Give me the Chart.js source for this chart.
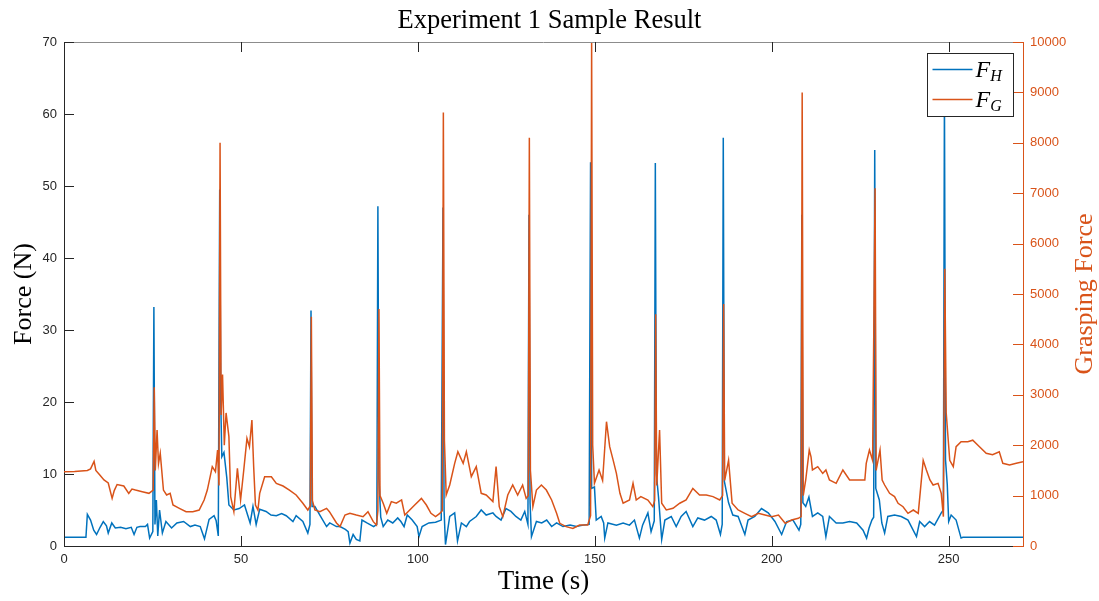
<!DOCTYPE html>
<html>
<head>
<meta charset="utf-8">
<title>Experiment 1 Sample Result</title>
<script src="https://cdn.jsdelivr.net/npm/chart.js@4/dist/chart.umd.min.js"></script>
<style>
    html, body { margin: 0; padding: 0; background: #fff; }
    #wrap { width: 1099px; height: 601px; }
</style>
</head>
<body>
<div id="wrap"><canvas id="forceChart" width="1099" height="601"></canvas></div>
<script>
// F_H : hand force (N), left axis
const timeHand = [
    0, 6.2, 6.6, 7.5, 8.4, 9.2, 10.2, 11.1, 12, 12.5,
    13.5, 14.5, 16, 17.5, 19, 19.8, 20.6, 21.5, 23, 23.6,
    24.2, 25.1, 25.4, 25.7, 26.1, 26.5, 27, 27.8, 28.8, 30.4,
    31.9, 33.8, 35.7, 37, 38.5, 39.7, 41, 42.4, 43, 43.6,
    44, 44.3, 44.6, 45.2, 46, 46.6, 48, 49.5, 51, 52.6,
    53.4, 54.3, 55.3, 57.1, 58.5, 60, 61.5, 62.8, 64.7, 65.6,
    67.5, 68.9, 69.5, 69.8, 70.1, 70.9, 72.3, 74.2, 75.1, 77,
    78, 79.5, 80.3, 80.8, 81.7, 82.6, 83.6, 84.2, 85.6, 87.5,
    88.4, 88.7, 89, 89.5, 90.2, 91.5, 92.9, 94.3, 95.2, 96.1,
    97, 98.4, 99.8, 100.3, 101.2, 103.1, 105, 106.6, 107.1, 107.4,
    107.8, 109, 110.4, 111.2, 112.3, 113.7, 114.6, 116.5, 117.9, 119.3,
    121.2, 122.1, 123.5, 124.9, 126.3, 127.7, 129.1, 130.2, 131.1, 131.4,
    131.7, 132.1, 133.5, 135, 136.4, 137.8, 139.2, 141, 143, 144.8,
    146.7, 148.4, 148.8, 149.1, 149.9, 150.4, 151.8, 152.5, 152.8, 153.7,
    156.1, 158, 159.8, 161.2, 162.6, 163.5, 165, 165.9, 166.8, 167.1,
    167.4, 168, 168.9, 169.8, 171.6, 173, 174.4, 175.8, 177.7, 179.1,
    181, 182.9, 184.3, 185.5, 186, 186.3, 186.6, 187.8, 189, 190.5,
    192.4, 193.3, 195.2, 197.1, 199, 200.9, 202.8, 204.2, 206, 207.7,
    208.2, 208.5, 208.8, 209.6, 210.5, 211.5, 213, 214.4, 215.3, 216.3,
    218.2, 220.1, 222, 224, 225.8, 226.8, 227.5, 228.3, 228.8, 229.1,
    229.4, 230.4, 231.1, 231.9, 232.8, 234.7, 236.6, 238.5, 240.9, 241.8,
    243.2, 244.6, 246, 247.9, 248.5, 248.8, 249.1, 249.6, 250, 250.7,
    252.1, 253.5, 254, 271
];
const forceHand = [
    1.2, 1.2, 4.4, 3.6, 2.2, 1.6, 2.6, 3.4, 2.8, 1.8,
    3.2, 2.5, 2.6, 2.4, 2.6, 1.6, 2.6, 2.7, 2.7, 3.0,
    1.1, 2.0, 33.2, 3.0, 6.4, 1.4, 5.0, 1.8, 3.4, 2.5,
    3.2, 3.4, 2.7, 2.9, 2.7, 1.0, 3.7, 4.2, 3.5, 1.4,
    49.5, 20, 12.4, 13, 9.5, 5.7, 5.0, 5.2, 5.7, 3.2,
    5.5, 3.0, 5.1, 4.8, 4.3, 4.2, 4.5, 4.2, 3.4, 4.2,
    3.4, 1.8, 3.0, 32.7, 5.5, 5.5, 4.3, 2.7, 3.2, 2.7,
    2.7, 2.3, 2.0, 0.4, 1.6, 0.9, 0.7, 3.6, 3.2, 2.7,
    3.0, 47.2, 9.4, 4.0, 2.7, 3.6, 3.2, 3.9, 3.4, 2.7,
    4.3, 3.6, 2.7, 1.3, 2.7, 3.2, 3.3, 3.6, 47, 5,
    0.2, 4.1, 4.6, 0.7, 3.2, 2.7, 3.4, 4.1, 5.0, 4.3,
    4.6, 4.1, 3.6, 5.2, 4.8, 4.1, 3.6, 4.8, 3.0, 46,
    6, 1.3, 3.4, 3.2, 3.6, 2.7, 3.2, 2.7, 2.9, 2.7,
    2.9, 3.0, 53.3, 8, 8.2, 3.6, 4.1, 3.2, 1.1, 3.2,
    2.9, 3.2, 2.9, 3.6, 1.1, 2.9, 4.6, 2.0, 3.5, 53.2,
    10, 6.8, 0.9, 3.6, 4.1, 2.7, 4.1, 4.8, 2.7, 3.9,
    3.6, 4.1, 3.6, 1.6, 3.0, 56.7, 9, 6.0, 4.3, 4.1,
    1.6, 3.6, 4.1, 5.2, 4.6, 3.4, 1.6, 3.4, 3.6, 2.2,
    3.0, 46, 6, 5.5, 6.8, 4.1, 4.6, 4.1, 1.3, 4.1,
    3.2, 3.2, 3.4, 3.2, 2.2, 1.1, 2.5, 3.6, 4.0, 55,
    8, 6.4, 3.2, 1.8, 4.1, 4.3, 4.1, 3.6, 1.3, 3.4,
    2.7, 3.4, 2.9, 4.6, 5, 63, 12, 8.5, 3.4, 4.3,
    3.6, 1.1, 1.2, 1.2
];

// F_G : grasping force, right axis
const timeGrasp = [
    0, 3, 6.6, 7.5, 8.5, 9, 10, 11.3, 12.5, 13.6,
    14.2, 15, 16.9, 18.3, 19.2, 20.2, 22.1, 24, 25.2, 25.5,
    25.8, 26.3, 26.7, 27.2, 28.1, 29, 30, 30.8, 32.6, 34.5,
    36.4, 38.2, 39.6, 40.5, 41.9, 42.8, 43.4, 43.8, 44.1, 44.4,
    44.8, 45.3, 45.8, 46.6, 47.1, 48, 49, 49.9, 50.8, 51.7,
    52.4, 53.1, 53.6, 54.1, 54.8, 55.3, 56.7, 58.6, 60, 61.9,
    63.7, 65.6, 67.5, 68.9, 69.6, 69.9, 70.2, 70.9, 72.3, 74.2,
    75, 77, 78, 79.4, 80.8, 82.6, 84.5, 85.9, 87.4, 88.3,
    88.7, 89, 89.3, 90.2, 91.2, 92.5, 93.9, 95.4, 96.3, 97.7,
    99.1, 101, 102.4, 103.7, 105, 106.2, 106.9, 107.2, 107.5, 108,
    109, 110.4, 111.3, 112.8, 113.7, 115.1, 116.5, 117.9, 119.3, 121.2,
    122.1, 123, 124, 125.4, 126.8, 128.2, 129.6, 130.6, 131.2, 131.5,
    131.8, 132.5, 133.5, 134.9, 136.3, 137.8, 139.2, 140.1, 141.9, 143.8,
    145.7, 148, 148.8, 149.1, 149.4, 149.9, 151.2, 152.2, 153.3, 154.2,
    155.2, 156.1, 157.1, 158, 159.8, 160.8, 161.7, 163, 165, 166.4,
    166.9, 167.2, 167.5, 168.3, 168.9, 170.2, 172.1, 174, 175.8, 177.7,
    179.6, 181.5, 183.4, 185.3, 186.1, 186.4, 186.7, 187.8, 188.8, 190.5,
    192.4, 194.3, 196.2, 198.1, 200, 201.9, 203.8, 205.6, 207.5, 208.3,
    208.6, 208.9, 209.6, 210.6, 211.1, 211.5, 213, 214.4, 215.3, 216.3,
    218.2, 220.1, 222, 224.9, 226.3, 226.7, 227.6, 228.5, 229.2, 229.5,
    230.6, 231.2, 231.9, 233.3, 234.7, 235.7, 237.1, 238.5, 240, 241.4,
    242.8, 243.7, 244.7, 245.6, 247, 247.9, 248.5, 248.9, 249.3, 250.3,
    251.3, 252.1, 253.5, 255.4, 256.8, 258.7, 260.6, 262.4, 264.3, 265.3,
    267.2, 269.1, 271
];
const forceGrasp = [
    1475, 1480, 1500, 1530, 1680, 1500, 1420, 1310, 1250, 945,
    1100, 1220, 1190, 1045, 1130, 1110, 1078, 1045, 1110, 3150,
    1500, 2300, 1630, 1840, 1110, 1012, 1045, 813, 747, 681,
    681, 714, 913, 1110, 1574, 1475, 1905, 1200, 8000, 2600,
    3400, 2000, 2640, 2170, 979, 681, 1540, 913, 1508, 2136,
    1970, 2500, 1574, 813, 714, 1045, 1375, 1375, 1243, 1190,
    1110, 1012, 848, 714, 800, 4550, 900, 714, 681, 747,
    681, 456, 384, 614, 648, 614, 582, 681, 483, 417,
    700, 4700, 1000, 848, 648, 880, 848, 913, 614, 714,
    813, 945, 813, 648, 582, 648, 700, 8600, 2100, 1012,
    1210, 1640, 1871, 1640, 1871, 1375, 1574, 1045, 1012, 880,
    1574, 780, 582, 1012, 1210, 1012, 1210, 945, 1000, 8100,
    1500, 780, 1110, 1210, 1110, 913, 648, 450, 384, 350,
    417, 417, 600, 10000, 2000, 1243, 1508, 1300, 2466, 1970,
    1700, 1440, 1045, 848, 913, 1243, 913, 980, 913, 780,
    900, 4600, 1200, 2300, 848, 714, 747, 848, 913, 1144,
    1012, 1012, 980, 913, 1000, 4800, 1300, 1700, 848, 714,
    648, 582, 648, 614, 582, 614, 450, 516, 549, 582,
    9000, 1000, 1310, 1905, 1770, 1508, 1574, 1440, 1508, 1310,
    1243, 1508, 1310, 1310, 1310, 1640, 1905, 1700, 7100, 1500,
    1905, 1310, 1210, 1045, 980, 848, 780, 648, 714, 648,
    1700, 1508, 1310, 1210, 1243, 1045, 582, 5500, 2640, 1700,
    1574, 1970, 2070, 2070, 2100, 1970, 1840, 1810, 1871, 1640,
    1607, 1640, 1673
];

const timeTicks = [0, 50, 100, 150, 200, 250];
const handTicks = [0, 10, 20, 30, 40, 50, 60, 70];
const graspTicks = [0, 1000, 2000, 3000, 4000, 5000, 6000, 7000, 8000, 9000, 10000];
const legendLabels = [['F', 'H'], ['F', 'G']];

const BLUE = '#0072BD';
const ORANGE = '#D95319';
const AXIS = '#262626';

function toPoints(xs, ys) {
    return xs.map((t, i) => ({ x: t, y: ys[i] }));
}

function fixTicks(values) {
    return scale => { scale.ticks = values.map(v => ({ value: v })); };
}

// inward tick marks and the top box edge, MATLAB style
const framePlugin = {
    id: 'matlabFrame',
    afterDatasetsDraw(chart) {
        const { ctx, chartArea: a, scales } = chart;
        const len = 10;
        ctx.save();
        ctx.lineWidth = 1;

        ctx.strokeStyle = '#8c8c8c';
        ctx.beginPath();
        ctx.moveTo(a.left, a.top + 0.5);
        ctx.lineTo(a.right, a.top + 0.5);
        ctx.stroke();

        ctx.strokeStyle = AXIS;
        ctx.beginPath();
        timeTicks.forEach(v => {
            const px = Math.round(scales.x.getPixelForValue(v)) + 0.5;
            ctx.moveTo(px, a.bottom);
            ctx.lineTo(px, a.bottom - len);
            ctx.moveTo(px, a.top);
            ctx.lineTo(px, a.top + len);
        });
        handTicks.forEach(v => {
            const py = Math.round(scales.yHand.getPixelForValue(v)) + 0.5;
            ctx.moveTo(a.left, py);
            ctx.lineTo(a.left + len, py);
        });
        ctx.stroke();

        ctx.strokeStyle = ORANGE;
        ctx.beginPath();
        graspTicks.forEach(v => {
            const py = Math.round(scales.yGrasp.getPixelForValue(v)) + 0.5;
            ctx.moveTo(a.right, py);
            ctx.lineTo(a.right - len, py);
        });
        ctx.stroke();
        ctx.restore();
    },
    afterDraw(chart) {
        const { ctx, chartArea: a } = chart;
        ctx.save();

        // right axis label reads bottom to top
        ctx.translate(1085, (a.top + a.bottom) / 2);
        ctx.rotate(-Math.PI / 2);
        ctx.fillStyle = ORANGE;
        ctx.font = '26px "Liberation Serif"';
        ctx.textAlign = 'center';
        ctx.textBaseline = 'middle';
        ctx.fillText('Grasping Force', 0, 0);
        ctx.restore();

        // legend box in the top right corner
        const x = a.right - 95.5, y = a.top + 11.5, w = 86, h = 63;
        ctx.save();
        ctx.fillStyle = '#fff';
        ctx.fillRect(x, y, w, h);
        ctx.strokeStyle = AXIS;
        ctx.lineWidth = 1;
        ctx.strokeRect(x, y, w, h);
        legendLabels.forEach((lab, i) => {
            const ds = chart.data.datasets[i];
            const ly = y + 16 + i * 30;
            ctx.strokeStyle = ds.borderColor;
            ctx.lineWidth = 1.5;
            ctx.beginPath();
            ctx.moveTo(x + 5, ly);
            ctx.lineTo(x + 45, ly);
            ctx.stroke();
            ctx.fillStyle = '#000';
            ctx.textBaseline = 'alphabetic';
            ctx.font = 'italic 24px "Liberation Serif"';
            ctx.fillText(lab[0], x + 48, ly + 7);
            const fw = ctx.measureText(lab[0]).width;
            ctx.font = 'italic 16px "Liberation Serif"';
            ctx.fillText(lab[1], x + 48 + fw, ly + 11);
        });
        ctx.restore();
    }
};

const ctx = document.getElementById('forceChart').getContext('2d');
const forceChart = new Chart(ctx, {
    type: 'line',
    data: {
        datasets: [{
            label: 'F_H',
            data: toPoints(timeHand, forceHand),
            yAxisID: 'yHand',
            borderColor: BLUE,
            borderWidth: 1.5,
            pointRadius: 0,
            tension: 0,
            order: 1
        }, {
            label: 'F_G',
            data: toPoints(timeGrasp, forceGrasp),
            yAxisID: 'yGrasp',
            borderColor: ORANGE,
            borderWidth: 1.5,
            pointRadius: 0,
            tension: 0,
            order: 0
        }]
    },
    options: {
        responsive: false,
        animation: false,
        parsing: false,
        layout: { padding: 0 },
        plugins: {
            legend: { display: false },
            tooltip: { enabled: false },
            title: {
                display: true,
                text: 'Experiment 1 Sample Result',
                color: '#000',
                font: { family: 'Liberation Serif', size: 26.5, weight: 'normal' },
                padding: { top: 5, bottom: 5.2 }
            }
        },
        scales: {
            x: {
                type: 'linear',
                min: 0,
                max: 271,
                afterBuildTicks: fixTicks(timeTicks),
                afterFit: s => { s.height = 55; },
                grid: { display: false, drawTicks: false },
                border: { display: true, color: AXIS, width: 1 },
                ticks: {
                    color: AXIS,
                    padding: 6,
                    maxRotation: 0,
                    font: { family: 'Liberation Sans', size: 13 }
                },
                title: {
                    display: true,
                    text: 'Time (s)',
                    color: '#000',
                    font: { family: 'Liberation Serif', size: 27 },
                    padding: { top: 0, bottom: 3 }
                }
            },
            yHand: {
                type: 'linear',
                position: 'left',
                min: 0,
                max: 70,
                afterBuildTicks: fixTicks(handTicks),
                afterFit: s => { s.width = 64; },
                grid: { display: false, drawTicks: false },
                border: { display: true, color: AXIS, width: 1 },
                ticks: {
                    color: AXIS,
                    padding: 7,
                    font: { family: 'Liberation Sans', size: 13 }
                },
                title: {
                    display: true,
                    text: 'Force (N)',
                    color: '#000',
                    font: { family: 'Liberation Serif', size: 26 },
                    padding: { top: 9, bottom: 0 }
                }
            },
            yGrasp: {
                type: 'linear',
                position: 'right',
                min: 0,
                max: 10000,
                afterBuildTicks: fixTicks(graspTicks),
                afterFit: s => { s.width = 76; },
                grid: { display: false, drawTicks: false },
                border: { display: true, color: ORANGE, width: 1 },
                ticks: {
                    color: ORANGE,
                    padding: 7,
                    callback: v => String(v),
                    font: { family: 'Liberation Sans', size: 13 }
                }
            }
        }
    },
    plugins: [framePlugin]
});
</script>
</body>
</html>
